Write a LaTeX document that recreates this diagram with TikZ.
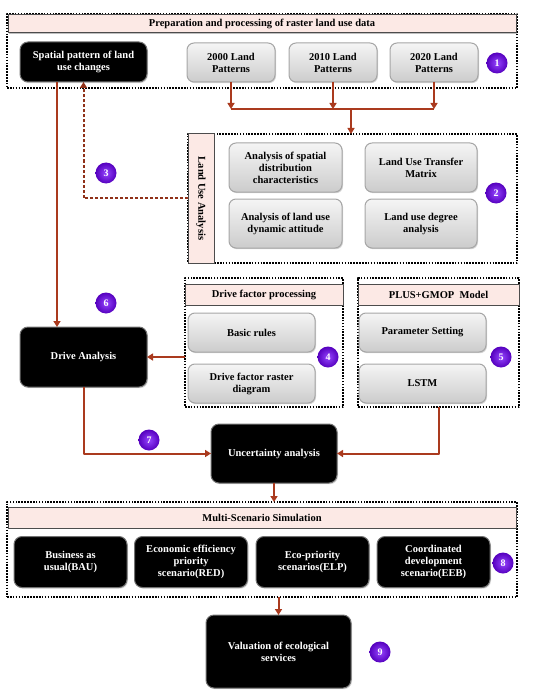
\documentclass[tikz,border=0pt]{standalone}
\usepackage{fontspec}
\setmainfont{Liberation Serif}
\usetikzlibrary{arrows.meta,shadows}
\definecolor{flowred}{RGB}{170,58,30}
\definecolor{barpink}{RGB}{252,233,229}
\definecolor{numlight}{RGB}{150,70,255}
\definecolor{numdark}{RGB}{85,0,190}
\begin{document}
\begin{tikzpicture}[x=1pt,y=-1pt,>={Triangle[width=7pt,length=6pt]},
	font=\fontsize{10.5}{12}\selectfont\bfseries, line join=round,
	every node/.style={inner sep=1pt, outer sep=0pt, align=center},
	group/.style={draw, line width=1.2pt, dash pattern=on 1.6pt off 1.3pt},
	headbar/.style={draw=black!70, line width=1pt, fill=barpink, minimum height=#1,
		drop shadow={opacity=0.5, shadow xshift=1pt, shadow yshift=-1pt}},
	headbar/.default=21,
	graybox/.style={draw=black!35, line width=1pt, rounded corners=7pt, top color=black!4, bottom color=black!20,
		drop shadow={opacity=0.35, shadow xshift=1pt, shadow yshift=-1.2pt}},
	blackbox/.style={draw=black!55, line width=1pt, fill=black, text=white, rounded corners=8pt,
		drop shadow={opacity=0.3, shadow xshift=1pt, shadow yshift=-1.2pt}},
	num/.style={circle, inner color=numlight, outer color=numdark, text=white, minimum size=21pt,
		font=\fontsize{10}{11}\selectfont\bfseries},
	flow/.style={draw=flowred, line width=2pt, ->},
	line/.style={draw=flowred, line width=2pt}]
\useasboundingbox (0,0) rectangle (550,695);
% data preparation
\node[group, minimum width=510, minimum height=74] (prep) at (262,51) {};
\node[headbar=18, minimum width=508] (prephead) at (262,24) {Preparation and processing of raster land use data};
\node[blackbox, minimum width=127, minimum height=40] (spatial) at (83.5,62) {Spatial pattern of land\\use changes};
\node[graybox, minimum width=88, minimum height=39] (p2000) at (231,62.5) {2000 Land\\Patterns};
\node[graybox, minimum width=88, minimum height=39] (p2010) at (333,62.5) {2010 Land\\Patterns};
\node[graybox, minimum width=88, minimum height=39] (p2020) at (434,62.5) {2020 Land\\Patterns};
\node[num] (n1) at (497,63) {1};
% land use analysis
\node[group, minimum width=329, minimum height=129] (lua) at (352.5,198.5) {};
\node[headbar, minimum width=26, minimum height=129] (luabar) at (201,198.5) {};
\node[rotate=-90] (luatext) at (luabar) {Land Use Analysis};
\node[graybox, minimum width=113, minimum height=49] (distr) at (285.5,167.5) {Analysis of spatial\\distribution\\characteristics};
\node[graybox, minimum width=112, minimum height=49] (transfer) at (421,167.5) {Land Use Transfer\\Matrix};
\node[graybox, minimum width=113, minimum height=49] (dynamic) at (285.5,223.5) {Analysis of land use\\dynamic attitude};
\node[graybox, minimum width=112, minimum height=49] (degree) at (421,223.5) {Land use degree\\analysis};
\node[num] (n2) at (496,193) {2};
\node[num] (n3) at (106,173) {3};
% drive factors and model
\node[group, minimum width=158, minimum height=129] (dfp) at (264,342.5) {};
\node[headbar, minimum width=158] (dfphead) at (264,294.5) {Drive factor processing};
\node[graybox, minimum width=127, minimum height=39] (rules) at (251.5,332.5) {Basic rules};
\node[graybox, minimum width=127, minimum height=39] (raster) at (251.5,383.5) {Drive factor raster\\diagram};
\node[num] (n4) at (328,357) {4};
\node[group, minimum width=161, minimum height=129] (plus) at (438.5,342.5) {};
\node[headbar, minimum width=161] (plushead) at (438.5,294.5) {PLUS+GMOP\ \ Model};
\node[graybox, minimum width=127, minimum height=39] (param) at (422.5,332.5) {Parameter Setting};
\node[graybox, minimum width=127, minimum height=39] (lstm) at (422.5,383.5) {LSTM};
\node[num] (n5) at (501,357) {5};
\node[num] (n6) at (106,303) {6};
\node[blackbox, minimum width=127, minimum height=60] (drive) at (83.5,357) {Drive Analysis};
\node[num] (n7) at (149,440) {7};
\node[blackbox, minimum width=126, minimum height=59] (unc) at (274,453.5) {Uncertainty analysis};
% scenarios
\node[group, minimum width=510, minimum height=95] (msc) at (262,549.5) {};
\node[headbar, minimum width=508] (mschead) at (262,517.5) {Multi-Scenario Simulation};
\node[blackbox, minimum width=113, minimum height=51] (bau) at (70.5,562) {Business as\\usual(BAU)};
\node[blackbox, minimum width=113, minimum height=51] (red) at (191,562) {Economic efficiency\\priority\\scenario(RED)};
\node[blackbox, minimum width=113, minimum height=51] (elp) at (312.5,562) {Eco-priority\\scenarios(ELP)};
\node[blackbox, minimum width=113, minimum height=51] (eeb) at (433.5,562) {Coordinated\\development\\scenario(EEB)};
\node[num] (n8) at (503,563) {8};
\node[blackbox, minimum width=145, minimum height=73] (val) at (278.5,651.5) {Valuation of ecological\\services};
\node[num] (n9) at (380,652) {9};
% connectors
\coordinate (bus) at (351,109);
\foreach \p in {p2000,p2010,p2020}
	\draw[flow] (\p.south) -- (\p.south |- bus);
\draw[line] (p2000.south |- bus) -- (p2020.south |- bus);
\draw[flow] (bus) -- (bus |- lua.north);
\draw[flow, dash pattern=on 3pt off 2pt, draw=flowred!85!black] (luabar.west |- 0,198) -| (spatial.south);
\draw[flow] ([xshift=37pt]spatial.south west) -- ([xshift=37pt]drive.north west);
\draw[flow] (dfp.west |- drive.east) -- (drive.east);
\draw[flow] (drive.south) |- (unc.west);
\draw[flow] (plus.south) |- (unc.east);
\draw[flow] (unc.south) -- (unc.south |- msc.north);
\draw[flow] (msc.south -| val.north) -- (val.north);
\end{tikzpicture}
\end{document}
